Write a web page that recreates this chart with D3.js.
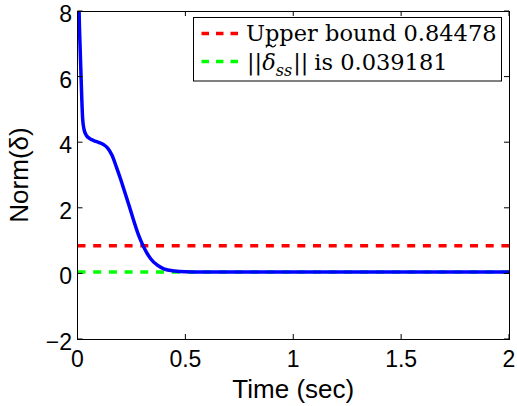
<!DOCTYPE html>
<html>
<head>
<meta charset="utf-8">
<script src="https://cdn.jsdelivr.net/npm/d3@7"></script>
<style>
  html, body { margin: 0; padding: 0; background: #fff; }
  svg { display: block; }
  text { white-space: pre; }
</style>
</head>
<body>
<svg id="chart" width="517" height="406"></svg>
<script>
// Time response of the error norm
const timeSec = [0, 0.004, 0.008, 0.012, 0.016, 0.02, 0.024, 0.03, 0.04, 0.055, 0.075, 0.1, 0.12, 0.14, 0.16, 0.18, 0.2, 0.22, 0.24, 0.26, 0.28, 0.3, 0.32, 0.34, 0.37, 0.4, 0.45, 0.5, 0.6, 0.8, 1.0, 1.5, 2.0];
const normDelta = [13, 9.5, 7.8, 6.9, 6.1, 5.3, 4.7, 4.4, 4.22, 4.12, 4.05, 3.99, 3.93, 3.82, 3.6, 3.25, 2.87, 2.46, 2.05, 1.62, 1.22, 0.9, 0.64, 0.44, 0.25, 0.14, 0.075, 0.053, 0.045, 0.04, 0.04, 0.04, 0.04];

// Reference levels
const upperBound = 0.84478;
const steadyState = 0.039181;

// Axis ticks
const xTicks = [0, 0.5, 1, 1.5, 2];
const yTicks = [-2, 0, 2, 4, 6, 8];

const svg = d3.select("#chart");
const mLeft = 77.5, mRight = 509, mTop = 11, mBottom = 339;

const x = d3.scaleLinear().domain([0, 2]).range([mLeft, mRight]);
const y = d3.scaleLinear().domain([-2, 8]).range([mBottom, mTop]);

svg.append("defs").append("clipPath").attr("id", "plotClip")
  .append("rect").attr("x", mLeft).attr("y", mTop)
  .attr("width", mRight - mLeft).attr("height", mBottom - mTop);

const plot = svg.append("g").attr("clip-path", "url(#plotClip)");

// Horizontal reference lines
plot.append("line")
  .attr("x1", x(0)).attr("x2", x(2))
  .attr("y1", y(upperBound)).attr("y2", y(upperBound))
  .attr("stroke", "#ff0000").attr("stroke-width", 3.5)
  .attr("stroke-dasharray", "8,7.7");
plot.append("line")
  .attr("x1", x(0)).attr("x2", x(2))
  .attr("y1", y(steadyState)).attr("y2", y(steadyState))
  .attr("stroke", "#00ff00").attr("stroke-width", 3.5)
  .attr("stroke-dasharray", "8,7.7");

// Response curve
const line = d3.line()
  .x((d, i) => x(timeSec[i]))
  .y(d => y(d))
  .curve(d3.curveMonotoneX);
plot.append("path")
  .datum(normDelta)
  .attr("d", line)
  .attr("fill", "none")
  .attr("stroke", "#0000ff")
  .attr("stroke-width", 3.5)
  .attr("stroke-linejoin", "round");

// Axes box with inward ticks on all sides
const tickLen = 5;
const fmt = v => String(v).replace("-", "\u2212");
const axes = svg.append("g").attr("stroke", "#000").attr("stroke-width", 1).attr("fill", "none");
axes.append("rect").attr("x", mLeft).attr("y", mTop)
  .attr("width", mRight - mLeft).attr("height", mBottom - mTop)
  .attr("shape-rendering", "crispEdges");

xTicks.forEach(v => {
  axes.append("line").attr("x1", x(v)).attr("x2", x(v)).attr("y1", mBottom).attr("y2", mBottom - tickLen);
  axes.append("line").attr("x1", x(v)).attr("x2", x(v)).attr("y1", mTop).attr("y2", mTop + tickLen);
});
yTicks.forEach(v => {
  axes.append("line").attr("x1", mLeft).attr("x2", mLeft + tickLen).attr("y1", y(v)).attr("y2", y(v));
  axes.append("line").attr("x1", mRight).attr("x2", mRight - tickLen).attr("y1", y(v)).attr("y2", y(v));
});

const sans = "'Liberation Sans', Arial, Helvetica, sans-serif";
svg.append("g").selectAll("text").data(xTicks).join("text")
  .attr("x", d => x(d)).attr("y", 367)
  .attr("text-anchor", "middle")
  .attr("font-family", sans).attr("font-size", 23)
  .text(fmt);
svg.append("g").selectAll("text").data(yTicks).join("text")
  .attr("x", 72).attr("y", d => y(d) + 11)
  .attr("text-anchor", "end")
  .attr("font-family", sans).attr("font-size", 23)
  .text(fmt);

// Axis titles
svg.append("text")
  .attr("x", (mLeft + mRight) / 2).attr("y", 398)
  .attr("text-anchor", "middle")
  .attr("font-family", sans).attr("font-size", 26)
  .text("Time (sec)");
svg.append("text")
  .attr("transform", `translate(28,${(mTop + mBottom) / 2}) rotate(-90)`)
  .attr("text-anchor", "middle")
  .attr("font-family", sans).attr("font-size", 26)
  .text("Norm(\u03b4)");

// Legend
const legend = svg.append("g");
legend.append("rect")
  .attr("x", 193.5).attr("y", 17.5).attr("width", 308).attr("height", 63.5)
  .attr("fill", "#fff").attr("stroke", "#000").attr("stroke-width", 1);

const serif = "'DejaVu Serif', serif";
const legendRows = [
  { color: "#ff0000", yLine: 33.5 },
  { color: "#00ff00", yLine: 61.5 }
];
legendRows.forEach(r => {
  legend.append("line")
    .attr("x1", 201.5).attr("x2", 240)
    .attr("y1", r.yLine).attr("y2", r.yLine)
    .attr("stroke", r.color).attr("stroke-width", 3.5)
    .attr("stroke-dasharray", "7.5,7");
});

legend.append("text")
  .attr("x", 246).attr("y", 40.5)
  .attr("font-family", serif).attr("font-size", 22.5)
  .text("Upper bound " + upperBound);

// Second row: ||δ̃_ss|| is value, built piece by piece
let cx = 247;
const baseY = 70;
function piece(str, opts = {}) {
  const t = legend.append("text")
    .attr("x", cx).attr("y", opts.y || baseY)
    .attr("font-family", serif)
    .attr("font-size", opts.size || 22.5)
    .attr("font-style", opts.italic ? "italic" : "normal")
    .text(str);
  const w = t.node().getComputedTextLength();
  const startX = cx;
  cx += w + (opts.gap || 0);
  return { startX, w };
}
piece("||", { gap: 0 });
const dl = piece("\u03b4", { italic: true });
// tilde accent over the delta
const tx = dl.startX + dl.w / 2 + 2, ty = 46;
legend.append("path")
  .attr("d", `M${tx - 5},${ty + 1.5} C${tx - 3},${ty - 2} ${tx - 1},${ty - 1} ${tx},${ty} S${tx + 3},${ty + 2} ${tx + 5},${ty - 1.5}`)
  .attr("fill", "none").attr("stroke", "#000").attr("stroke-width", 1.2);
piece("ss", { italic: true, size: 16, y: 76, gap: 1 });
piece("||", { gap: 6 });
piece("is " + steadyState);
</script>
</body>
</html>
